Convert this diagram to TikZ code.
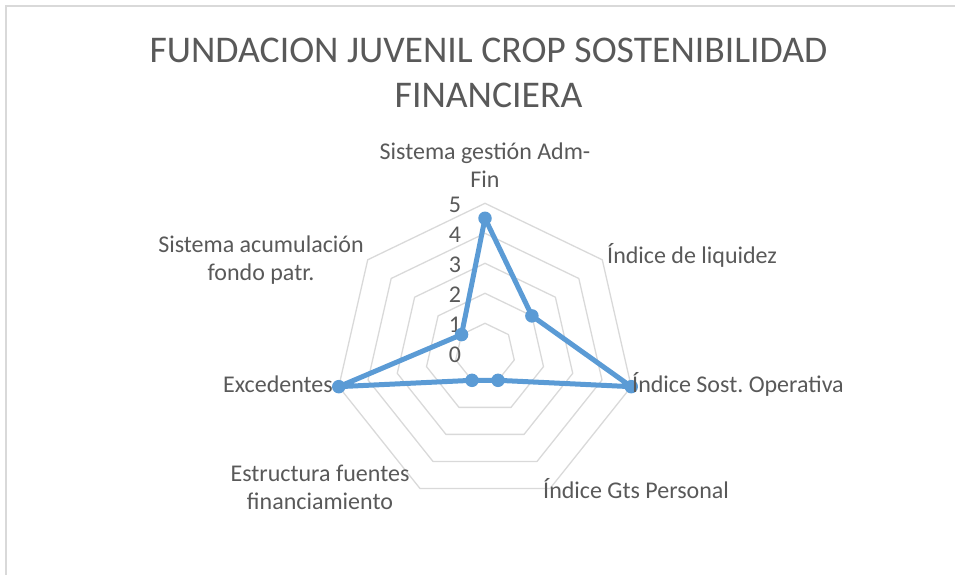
\documentclass[tikz,border=0pt]{standalone}
\usepackage{fontspec}
\setmainfont{Carlito}
\usetikzlibrary{positioning}
\frenchspacing
\definecolor{txtgray}{HTML}{595959}
\definecolor{gridgray}{HTML}{D9D9D9}
\definecolor{serieblue}{HTML}{5B9BD5}
\tikzset{
  x=1pt, y=1pt,
  gridring/.style={draw=gridgray, line width=1.3pt, line join=round},
  serie/.style={draw=serieblue, line width=5pt, line join=round},
  dot/.style={circle, fill=serieblue, inner sep=0pt, minimum size=13.5pt},
  axislabel/.style={text=txtgray, font=\fontsize{24}{28}\selectfont, align=center, inner sep=0pt},
  ticklabel/.style={text=txtgray, font=\fontsize{24}{28}\selectfont, inner sep=0pt},
  charttitle/.style={text=txtgray, font=\fontsize{37.7}{44.6}\selectfont, align=center, inner sep=0pt}
}

\begin{document}
\begin{tikzpicture}
  \useasboundingbox (0,0) rectangle (955,575);
  % chart frame
  \draw[draw=gridgray, line width=2pt] (6,-5) -- (6,568.5) -- (960,568.5);

  \begin{scope}[shift={(485,221.7)}]
    % title (base = last line)
    \node[charttitle, anchor=base] (title) at (3.5,246)
      {FUNDACION JUVENIL CROP SOSTENIBILIDAD\\FINANCIERA};

    % grid rings
    \foreach \r in {30,60,...,150}
      \draw[gridring] (90:\r) \foreach \a in {1,...,6} { -- ({90-\a*360/7}:\r) } -- cycle;

    % scale
    \foreach \k in {0,...,5}
      \node[ticklabel] (t\k) at (-30,{-1.7+30*\k}) {\k};

    % series
    \foreach \v [count=\i from 0] in {4.5,2,5,1,1,5,1}
      \coordinate (p\i) at ({90-\i*360/7}:{\v*30});
    \draw[serie] (p0) -- (p1) -- (p2) -- (p3) -- (p4) -- (p5) -- (p6) -- cycle;
    \foreach \i in {0,...,6}
      \node[dot] (m\i) at (p\i) {};

    % axis labels
    \node[axislabel, anchor=base] (admfin) at (0,165.3) {Sistema gestión Adm-\\Fin};
    \node[axislabel, anchor=base west] (liquidez) at (122,90) {Índice de liquidez};
    \node[axislabel, anchor=base west] (sostop) at (147,-39.7) {Índice Sost. Operativa};
    \node[axislabel, anchor=base west] (gtspers) at (58,-145.7) {Índice Gts Personal};
    \node[axislabel, anchor=base] (fuentes) at (-165,-156.7) {Estructura fuentes\\financiamiento};
    \node[axislabel, anchor=base east] (excedentes) at (-152,-39.7) {Excedentes};
    \node[axislabel, anchor=base] (fondo) at (-224,72.3) {Sistema acumulación\\fondo patr.};
  \end{scope}
\end{tikzpicture}
\end{document}
